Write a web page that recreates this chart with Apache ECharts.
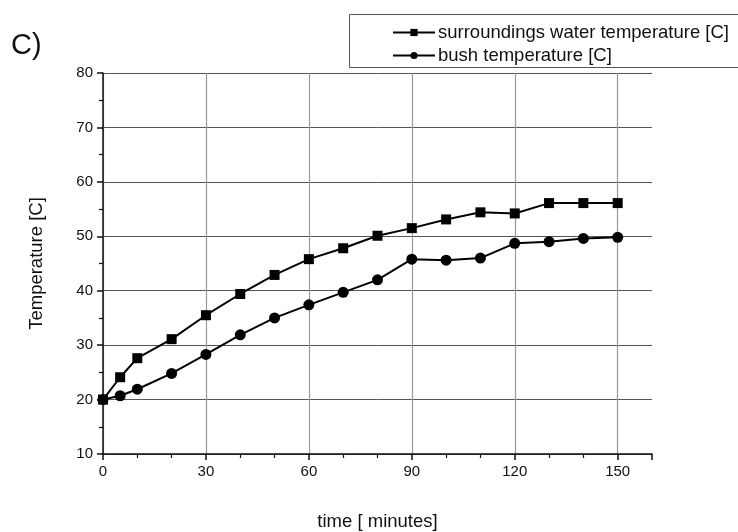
<!DOCTYPE html>
<html><head><meta charset="utf-8">
<script src="https://cdn.jsdelivr.net/npm/echarts@6/dist/echarts.min.js"></script>
<style>html,body{margin:0;padding:0;background:#fff}#c{width:738px;height:532px}</style>
</head><body><div id="c"></div>
<script>
const times = [0, 5, 10, 20, 30, 40, 50, 60, 70, 80, 90, 100, 110, 120, 130, 140, 150];
const waterTemp = [20, 24.1, 27.6, 31.1, 35.5, 39.4, 42.9, 45.8, 47.8, 50.1, 51.5, 53.1, 54.4, 54.2, 56.1, 56.1, 56.1];
const bushTemp = [20, 20.7, 21.9, 24.8, 28.3, 31.9, 35.0, 37.4, 39.7, 42.0, 45.8, 45.6, 46.0, 48.7, 49.0, 49.6, 49.8];
const seriesNames = ['surroundings water temperature [C]', 'bush temperature [C]'];

const chart = echarts.init(document.getElementById('c'), null, {renderer: 'canvas'});
const font = 'Liberation Sans, Arial, sans-serif';
const vGrid = '#999';
chart.setOption({
  animation: false,
  backgroundColor: '#fff',
  textStyle: {fontFamily: font},
  grid: {left: 103, right: 86, top: 73, bottom: 78, containLabel: false, outerBoundsMode: 'none'},
  graphic: [
    {type: 'rect', shape: {x: 349.5, y: 14.5, width: 400, height: 53}, style: {fill: 'none', stroke: '#555', lineWidth: 1}},
    {type: 'text', left: 11, top: 31, style: {text: 'C)', font: '29px ' + font, fill: '#111'}}
  ],
  legend: {
    orient: 'vertical', left: 387, top: 18,
    itemWidth: 42, itemHeight: 9, itemGap: 4,
    textStyle: {fontSize: 18.5, color: '#111', fontFamily: font, padding: [0, 0, 0, -2]},
    data: seriesNames
  },
  xAxis: {
    type: 'value', min: 0, max: 160, interval: 30,
    name: 'time [ minutes]', nameLocation: 'middle', nameGap: 58,
    nameTextStyle: {fontSize: 18.5, color: '#111'},
    axisLine: {lineStyle: {color: '#111', width: 1.5}},
    axisTick: {length: 6, lineStyle: {color: '#111', width: 1.5}},
    minorTick: {show: true, splitNumber: 3, length: 4, lineStyle: {color: '#111', width: 1.2}},
    axisLabel: {fontSize: 15, color: '#111', margin: 10,
      formatter: v => (v <= 150 ? String(v) : '')},
    splitLine: {show: true, lineStyle: {color: [vGrid, vGrid, vGrid, vGrid, vGrid, vGrid, 'rgba(0,0,0,0)'], width: 1.2}},
    minorSplitLine: {show: false}
  },
  yAxis: {
    type: 'value', min: 10, max: 80, interval: 10,
    name: 'Temperature [C]', nameLocation: 'middle', nameGap: 57, nameRotate: 90,
    nameTextStyle: {fontSize: 18.5, color: '#111'},
    axisLine: {show: true, lineStyle: {color: '#111', width: 1.5}},
    axisTick: {show: true, length: 6, lineStyle: {color: '#111', width: 1.5}},
    minorTick: {show: true, splitNumber: 2, length: 4, lineStyle: {color: '#111', width: 1.2}},
    axisLabel: {fontSize: 15, color: '#111', margin: 10},
    splitLine: {show: true, lineStyle: {color: '#555', width: 1}}
  },
  series: [
    {name: seriesNames[0], type: 'line', data: times.map((t, i) => [t, waterTemp[i]]),
      symbol: 'rect', symbolSize: 10, itemStyle: {color: '#000'},
      lineStyle: {color: '#000', width: 2}},
    {name: seriesNames[1], type: 'line', data: times.map((t, i) => [t, bushTemp[i]]),
      symbol: 'circle', symbolSize: 11, itemStyle: {color: '#000'},
      lineStyle: {color: '#000', width: 2}}
  ]
});
</script></body></html>
